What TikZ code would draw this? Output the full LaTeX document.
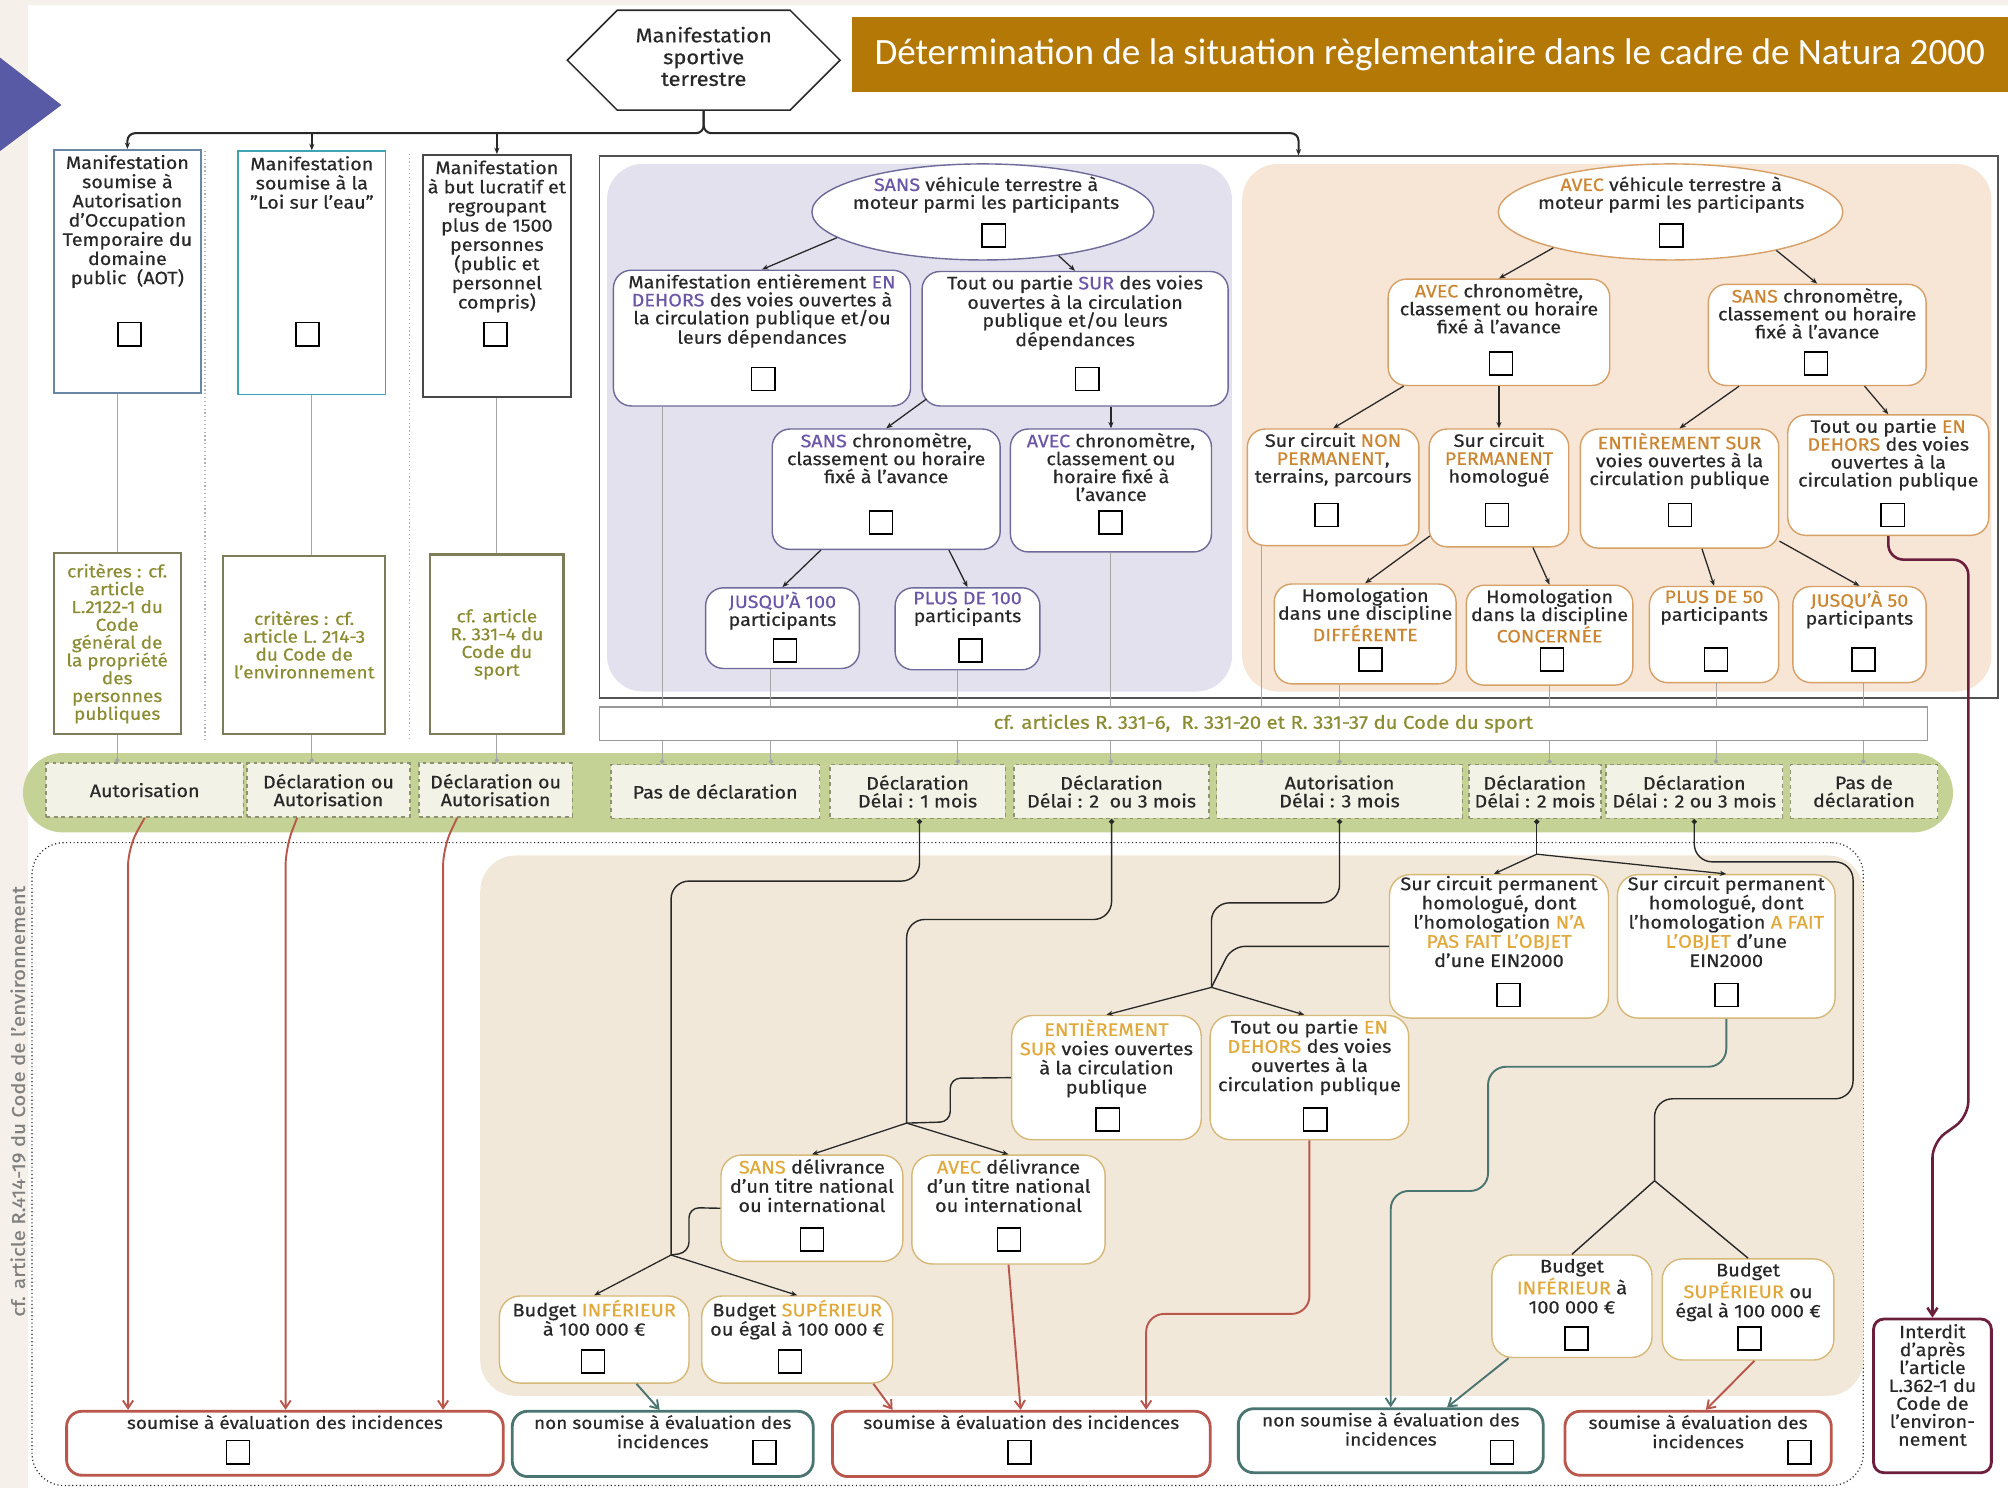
\documentclass[tikz,border=0pt]{standalone}
\usepackage{fontspec}
\setmainfont{Fira Sans}[FakeStretch=1.1, FakeBold=0.5]
\newfontfamily\titlefont{Carlito}
\usetikzlibrary{arrows.meta, positioning, calc, shapes.geometric, shapes.symbols}

\definecolor{ink}{RGB}{40,40,40}
\definecolor{bgbeige}{RGB}{245,241,234}
\definecolor{triblue}{RGB}{88,90,166}
\definecolor{titlebg}{RGB}{180,120,6}
\definecolor{aotbd}{RGB}{106,134,166}
\definecolor{loibd}{RGB}{62,163,181}
\definecolor{olivebd}{RGB}{125,125,92}
\definecolor{olivetx}{RGB}{140,140,50}
\definecolor{purpfill}{RGB}{228,225,239}
\definecolor{purpbd}{RGB}{110,106,154}
\definecolor{kwpurp}{RGB}{107,86,168}
\definecolor{orfill}{RGB}{247,229,214}
\definecolor{orbd}{RGB}{214,160,102}
\definecolor{kwor}{RGB}{204,133,48}
\definecolor{lowfill}{RGB}{242,232,218}
\definecolor{lowbd}{RGB}{214,184,120}
\definecolor{kwyel}{RGB}{226,168,58}
\definecolor{bandgreen}{RGB}{196,210,150}
\definecolor{bandfill}{RGB}{243,242,230}
\definecolor{bandbd}{RGB}{142,146,114}
\definecolor{redc}{RGB}{185,87,76}
\definecolor{tealc}{RGB}{75,117,113}
\definecolor{maroon}{RGB}{107,31,61}

\newcommand{\kp}[1]{\textcolor{kwpurp}{#1}}
\newcommand{\ko}[1]{\textcolor{kwor}{#1}}
\newcommand{\ky}[1]{\textcolor{kwyel}{#1}}
% text box with the text at the top
\newcommand{\toptxt}[4][3pt]{\parbox[c][#3pt][t]{#2pt}{\centering\vspace*{#1}#4\par}}

\begin{document}
\begin{tikzpicture}[
    x=1pt, y=-1pt,
    txt/.style={font=\fontsize{14}{14}\selectfont, text=ink},
    pnode/.style={draw=purpbd, line width=1.1pt, fill=white, rounded corners=14, inner sep=0pt, txt},
    onode/.style={draw=orbd, line width=1.1pt, fill=white, rounded corners=14, inner sep=0pt, txt},
    lnode/.style={draw=lowbd, line width=1.1pt, fill=white, rounded corners=16, inner sep=0pt,
      font=\fontsize{14.2}{15}\selectfont, text=ink},
    colbox/.style={line width=1.4pt, fill=white, inner sep=0pt, font=\fontsize{14}{15}\selectfont, text=ink},
    critbox/.style={draw=olivebd, line width=1.6pt, fill=white, inner sep=0pt, align=center,
      text=olivetx, font=\fontsize{13.5}{13.9}\selectfont},
    bandbox/.style={draw=bandbd, dashed, line width=1.2pt, fill=bandfill, inner sep=0pt, align=center,
      minimum height=42, text=ink, font=\fontsize{14}{14}\selectfont},
    outbox/.style={line width=2.2pt, fill=white, rounded corners=12, inner sep=0pt,
      font=\fontsize{13.5}{15}\selectfont, text=ink},
    chk/.style={draw=black, line width=1.2pt, minimum size=18, inner sep=0pt, fill=white},
    busline/.style={draw=ink, line width=1.6pt, rounded corners=6, -{Stealth[length=5pt,width=4pt]}},
    tarrow/.style={draw=ink, line width=1pt, -{Stealth[length=5pt,width=4pt]}},
    gline/.style={draw=gray!70, line width=0.8pt, -{Circle[length=3.5pt]}},
    bline/.style={draw=ink, line width=1.1pt, rounded corners=14},
    dotstart/.style={{Circle[length=4pt]}-},
    redar/.style={draw=redc, line width=1.5pt, rounded corners=14, -{Straight Barb[length=6pt,width=8pt]}},
    tealar/.style={draw=tealc, line width=1.5pt, rounded corners=14, -{Straight Barb[length=6pt,width=8pt]}},
    sepline/.style={draw=gray!60, dotted, line width=1pt}
]
\useasboundingbox (0,0) rectangle (1568,1162);
\fill[bgbeige] (0,0) rectangle (1568,1162);
\fill[white] (22,4) rectangle (1568,1162);

% Title
\fill[triblue] (0,45) -- (48,82) -- (0,118) -- cycle;
\node[signal, signal to=west and east, draw=ink, line width=1.2pt, fill=white, inner sep=0pt,
  minimum width=213, minimum height=78, align=center, text=ink, text depth=6pt,
  font=\fontsize{15.5}{17}\selectfont] (Hex) at (549.5,47) {Manifestation\\sportive\\terrestre};
\node[fill=titlebg, text=white, minimum width=903, minimum height=59, inner sep=0pt,
  font=\titlefont\fontsize{29}{32}\selectfont] (Ttl) at (1116.5,42.5)
  {Détermination de la situation règlementaire dans le cadre de Natura 2000};

% Left columns
\draw[sepline] (160,118) -- (160,578);
\draw[sepline] (320,120) -- (320,578);
\node[colbox, draw=aotbd] (A) at (99.5,212) {\toptxt[4pt]{115}{190}{Manifestation\\soumise à\\Autorisation\\d'Occupation\\Temporaire du\\domaine\\public~ (AOT)}};
\node[colbox, draw=loibd] (B) at (243.5,213) {\toptxt[4pt]{115}{190}{Manifestation\\soumise à la\\"Loi sur l'eau"}};
\node[colbox, draw=ink!85] (C) at (388,215.5) {\toptxt[4pt]{116}{189}{Manifestation\\à but lucratif et\\regroupant\\plus de 1500\\personnes\\(public et\\personnel\\compris)}};
\node[critbox, minimum width=99, minimum height=141] (CA) at (91.5,502.5) {critères : cf.\\article\\L.2122-1 du\\Code\\général de\\la propriété\\des\\personnes\\publiques};
\node[critbox, minimum width=127, minimum height=139] (CB) at (237.5,503.5) {critères : cf.\\article L. 214-3\\du Code de\\l'environnement};
\node[critbox, minimum width=104, minimum height=140] (CC) at (388,503) {cf. article\\R. 331-4 du\\Code du\\sport};

% Frame and panels
\node[draw=ink!80, line width=1.3pt, fill=white, minimum width=1092, minimum height=423] (Fr) at (1014,333.5) {};
\node[fill=purpfill, rounded corners=28, minimum width=488, minimum height=412] (PPan) at (718,334) {};
\node[fill=orfill, rounded corners=28, minimum width=585, minimum height=412] (OPan) at (1262.5,334) {};

% Top bus
\coordinate (bus0) at (549.5,104);
\draw[busline] (Hex.south) |- (A.north |- bus0) -- (A.north);
\draw[busline] (Hex.south) |- (Fr.north |- bus0) -- (Fr.north);
\draw[busline] (B.north |- bus0) -- (B.north);
\draw[busline] (C.north |- bus0) -- (C.north);

% Purple tree
\node[ellipse, draw=purpbd, line width=1.1pt, fill=white, minimum width=267, minimum height=75] (P0) at (767.5,165.5) {};
\node[txt, align=center] (P0t) at (770,152) {\kp{SANS} véhicule terrestre à\\moteur parmi les participants};
\node[pnode] (P1) at (595,264) {\toptxt{232}{106}{Manifestation entièrement \kp{EN}\\\kp{DEHORS} des voies ouvertes à\\la circulation publique et/ou\\leurs dépendances}};
\node[pnode] (P2) at (839.5,264.5) {\toptxt{239}{105}{Tout ou partie \kp{SUR} des voies\\ouvertes à la circulation\\publique et/ou leurs\\dépendances}};
\node[pnode] (P3) at (692,382) {\toptxt{178}{94}{\kp{SANS} chronomètre,\\classement ou horaire\\fixé à l'avance}};
\node[pnode] (P4) at (867.5,383) {\toptxt{157}{96}{\kp{AVEC} chronomètre,\\classement ou\\horaire fixé à\\l'avance}};
\node[pnode] (P5) at (611,490.5) {\toptxt{120}{63}{\kp{JUSQU'À 100}\\participants}};
\node[pnode] (P6) at (755.5,491) {\toptxt{113}{64}{\kp{PLUS DE 100}\\participants}};
\draw[tarrow] (P0.190) -- (P1.north);
\draw[tarrow] (P0.-30) -- (P2.north);
\draw[tarrow] ([xshift=4pt,yshift=6pt]P2.south west) -- (P3.north);
\draw[tarrow] (P2.south -| P4.north) -- (P4.north);
\draw[tarrow] (641,0 |- P3.south) -- (P5.north);
\draw[tarrow] (741,0 |- P3.south) -- (P6.north);

% Orange tree
\node[ellipse, draw=orbd, line width=1.1pt, fill=white, minimum width=269, minimum height=75] (O0) at (1304.5,165.5) {};
\node[txt, align=center] (O0t) at (1305,152) {\ko{AVEC} véhicule terrestre à\\moteur parmi les participants};
\node[onode] (O1) at (1170.5,259.5) {\toptxt{173}{83}{\ko{AVEC} chronomètre,\\classement ou horaire\\fixé à l'avance}};
\node[onode] (O2) at (1419,261.5) {\toptxt{170}{79}{\ko{SANS} chronomètre,\\classement ou horaire\\fixé à l'avance}};
\node[onode] (O3) at (1041,380.5) {\toptxt{134}{91}{Sur circuit \ko{NON}\\\ko{PERMANENT},\\terrains, parcours}};
\node[onode] (O4) at (1170.5,381) {\toptxt{109}{92}{Sur circuit\\\ko{PERMANENT}\\homologué}};
\node[onode] (O5) at (1311.5,381.5) {\toptxt{155}{93}{\ko{ENTIÈREMENT SUR}\\voies ouvertes à la\\circulation publique}};
\node[onode] (O6) at (1474.5,371) {\toptxt{157}{94}{Tout ou partie \ko{EN}\\\ko{DEHORS} des voies\\ouvertes à la\\circulation publique}};
\node[onode] (O7) at (1066,495) {\toptxt{142}{78}{Homologation\\dans une discipline\\\ko{DIFFÉRENTE}}};
\node[onode] (O8) at (1210,496) {\toptxt{130}{78}{Homologation\\dans la discipline\\\ko{CONCERNÉE}}};
\node[onode] (O9) at (1338.5,495.5) {\toptxt{101}{75}{\ko{PLUS DE 50}\\participants}};
\node[onode] (O10) at (1452,495.5) {\toptxt{104}{75}{\ko{JUSQU'À 50}\\participants}};
\draw[tarrow] (O0.197) -- (O1.north);
\draw[tarrow] (O0.-20) -- (O2.north);
\draw[tarrow] (1096,0 |- O1.south) -- (O3.north);
\draw[tarrow] (O1.south) -- (O4.north);
\draw[tarrow] (1358,0 |- O2.south) -- (O5.north);
\draw[tarrow] (1456,0 |- O2.south) -- (O6.north);
\draw[tarrow] ([xshift=1pt,yshift=9pt]O4.south west) -- (O7.north);
\draw[tarrow] (1197,0 |- O4.south) -- (O8.north);
\draw[tarrow] (1329,0 |- O5.south) -- (O9.north);
\draw[tarrow] ([yshift=6pt]O5.south east) -- (O10.north);

% Green band
\node[fill=bandgreen, rounded corners=31, minimum width=1507, minimum height=62] (Band) at (771.5,619) {};
\node[bandbox, minimum width=154] (B1) at (113,617) {Autorisation};
\node[bandbox, minimum width=127] (B2) at (256.5,617) {Déclaration ou\\Autorisation};
\node[bandbox, minimum width=120] (B3) at (387,617) {Déclaration ou\\Autorisation};
\node[bandbox, minimum width=163] (B4) at (558.5,618) {Pas de déclaration};
\node[bandbox, minimum width=137] (B5) at (716.5,618) {Déclaration\\Délai : 1 mois};
\node[bandbox, minimum width=152] (B6) at (868,618) {Déclaration\\Délai : 2~ ou 3 mois};
\node[bandbox, minimum width=192] (B7) at (1046,618) {Autorisation\\Délai : 3 mois};
\node[bandbox, minimum width=103] (B8) at (1198.5,618) {Déclaration\\Délai : 2 mois};
\node[bandbox, minimum width=138] (B9) at (1323,618) {Déclaration\\Délai : 2 ou 3 mois};
\node[bandbox, minimum width=115] (B10) at (1455.5,618) {Pas de\\déclaration};

% Criteria links
\draw[draw=gray!70, line width=0.8pt] (A.south -| CA.north) -- (CA.north);
\draw[draw=gray!70, line width=0.8pt] (B.south) -- (B.south |- CB.north);
\draw[draw=gray!70, line width=0.8pt] (C.south) -- (C.south |- CC.north);
\draw[gline] (CA.south) -- (CA.south |- B1.north);
\draw[gline] (B.south |- CB.south) -- (B.south |- B2.north);
\draw[gline] (CC.south) -- (CC.south |- B3.north);

% Leaves to band
\draw[gline] (517,0 |- P1.south) -- (517,0 |- B4.north);
\draw[gline] (602,0 |- P5.south) -- (602,0 |- B4.north);
\draw[gline] (748,0 |- P6.south) -- (748,0 |- B5.north);
\draw[gline] (P4.south) -- (P4.south |- B6.north);
\draw[gline] (985,0 |- O3.south) -- (985,0 |- B7.north);
\draw[gline] (1046,0 |- O7.south) -- (1046,0 |- B7.north);
\draw[gline] (O8.south) -- (O8.south |- B8.north);
\draw[gline] (1340,0 |- O9.south) -- (1340,0 |- B9.north);
\draw[gline] (1455,0 |- O10.south) -- (1455,0 |- B10.north);
\node[draw=gray!80, line width=1pt, fill=white, minimum width=1037, minimum height=26, inner sep=0pt,
  text=olivetx, font=\fontsize{14.5}{15}\selectfont] (Cf) at (986.5,565)
  {cf. articles R. 331-6,~ R. 331-20 et R. 331-37 du Code du sport};

% Lower section
\node[draw=ink, dotted, line width=0.9pt, rounded corners=25, minimum width=1430, minimum height=502] (LowF) at (740,909) {};
\node[fill=lowfill, rounded corners=28, minimum width=1080, minimum height=422] (LowP) at (915,879) {};
\node[rotate=90, text=gray, font=\fontsize{14.5}{15}\selectfont] (Ref) at (14,860) {cf. article R.414-19 du Code de l'environnement};

\node[lnode] (L1) at (1170.5,739) {\toptxt[1pt]{171}{112}{Sur circuit permanent\\homologué, dont\\l'homologation \ky{N'A}\\\ky{PAS FAIT L'OBJET}\\d'une EIN2000}};
\node[lnode] (L2) at (1348,739) {\toptxt[1pt]{170}{112}{Sur circuit permanent\\homologué, dont\\l'homologation \ky{A FAIT}\\\ky{L'OBJET} d'une\\EIN2000}};
\node[lnode] (L3) at (864,841.5) {\toptxt{148}{97}{\ky{ENTIÈREMENT}\\\ky{SUR} voies ouvertes\\à la circulation\\publique}};
\node[lnode] (L4) at (1022.5,841.5) {\toptxt{155}{97}{Tout ou partie \ky{EN}\\\ky{DEHORS} des voies\\ouvertes à la\\circulation publique}};
\node[lnode] (L5) at (634,943.5) {\toptxt{142}{83}{\ky{SANS} délivrance\\d'un titre national\\ou international}};
\node[lnode] (L6) at (787.5,944.5) {\toptxt{151}{85}{\ky{AVEC} délivrance\\d'un titre national\\ou international}};
\node[lnode] (L7) at (464,1046) {\toptxt{148}{68}{Budget \ky{INFÉRIEUR}\\à 100~000 €}};
\node[lnode] (L8) at (622.5,1046) {\toptxt{149}{68}{Budget \ky{SUPÉRIEUR}\\ou égal à 100~000 €}};
\node[lnode] (R1) at (1227.5,1020) {\toptxt{125}{80}{Budget\\\ky{INFÉRIEUR} à\\100~000 €}};
\node[lnode] (R2) at (1365,1022.5) {\toptxt{134}{79}{Budget\\\ky{SUPÉRIEUR} ou\\égal à 100~000 €}};

\node[outbox, draw=redc] (S1) at (222.5,1127) {\toptxt{341}{50}{soumise à évaluation des incidences}};
\node[outbox, draw=tealc] (N1) at (517.5,1127.5) {\toptxt{235}{51}{non soumise à évaluation des\\incidences}};
\node[outbox, draw=redc] (S2) at (797.5,1127.5) {\toptxt{295}{51}{soumise à évaluation des incidences}};
\node[outbox, draw=tealc] (N2) at (1086,1125) {\toptxt{238}{50}{non soumise à évaluation des\\incidences}};
\node[outbox, draw=redc] (S3) at (1326,1127) {\toptxt{208}{50}{soumise à évaluation des\\incidences}};
\node[outbox, draw=maroon, rounded corners=8, font=\fontsize{14}{14}\selectfont] (Int) at (1509,1090) {\toptxt[4pt]{92}{120}{Interdit\\d'après\\l'article\\L.362-1 du\\Code de\\l'environ-\\nement}};

% Junctions
\coordinate (J1) at (946,771);
\coordinate (J2) at (708,877);
\coordinate (J3) at (1292,922);
\coordinate (J4) at (524,980);
\coordinate (J5) at (1200,667);

\draw[bline, dotstart] (718,0 |- B5.south) -- (718,688) -- (524,688) -- (J4);
\draw[bline, dotstart] (B6.south) -- (868,718) -- (708,718) -- (J2);
\draw[bline, dotstart] (B7.south) -- (1046,705) -- (946,705) -- (J1);
\draw[bline, rounded corners=10] (L1.west) -- (962,739) -- (J1);
\draw[bline, dotstart] (1200,0 |- B8.south) -- (J5);
\draw[tarrow] (J5) -- ([xshift=-4pt]L1.north);
\draw[tarrow] (J5) -- (L2.north);
\draw[bline, dotstart] (B9.south) -- (1323,673) -- (1447,673) -- (1447,858) -- (1292,858) -- (J3);
\draw[bline, rounded corners=8] (L3.west) -- (742,842) -- (742,876) -- (J2);
\draw[bline, rounded corners=8] (L5.west) -- (538,943) -- (538,978) -- (J4);
\draw[tarrow] (J1) -- (L3.north);
\draw[tarrow] (J1) -- ([xshift=-4pt]L4.north);
\draw[tarrow] (J2) -- (L5.north);
\draw[tarrow] (J2) -- (L6.north);
\draw[tarrow] (J4) -- (L7.north);
\draw[tarrow] (J4) -- (L8.north);
\draw[bline] (J3) -- (R1.north);
\draw[bline] (J3) -- (R2.north);

% Outcomes
\draw[redar] (B1.south) -- (100,662) -- (100,0 |- S1.north);
\draw[redar] (232,0 |- B2.south) -- (223,662) -- (223,0 |- S1.north);
\draw[redar] (357,0 |- B3.south) -- (346,662) -- (346,0 |- S1.north);
\draw[redar] (682,0 |- L8.south) -- (697,0 |- S2.north);
\draw[redar] (L6.south) -- (797,0 |- S2.north);
\draw[redar] (L4.south) -- (1022.5,1026) -- (895,1026) -- (895,0 |- S2.north);
\draw[redar] (1370,0 |- R2.south) -- (1332,0 |- S3.north);
\draw[tealar] (497,0 |- L7.south) -- (515,0 |- N1.north);
\draw[tealar] (1178,0 |- R1.south) -- (1130,0 |- N2.north);
\draw[tealar] (L2.south) -- (1348,833) -- (1162,833) -- (1162,930) -- (1086,930) -- (1086,0 |- N2.north);
\draw[draw=maroon, line width=2pt, rounded corners=12, -{Straight Barb[length=6pt,width=8pt]}]
  (O6.south) -- (1474.5,437) -- (1537,437) -- (1537,872) -- (1509,892) -- (Int.north);

% Checkboxes
\foreach \n/\x/\y in {A/101/261, B/240/261, C/387/261, P0/776/184, P1/596/296, P2/849/296,
    P3/688/408, P4/867/408, P5/613/508, P6/758/508, O0/1305/184, O1/1172/284, O2/1418/284,
    O3/1036/402, O4/1169/402, O5/1312/402, O6/1478/402, O7/1070/515, O8/1212/515,
    O9/1340/515, O10/1455/515, L1/1178/777, L2/1348/777, L3/865/874, L4/1027/874,
    L5/634/968, L6/788/968, L7/463/1063, L8/617/1063, R1/1231/1045, R2/1366/1045,
    S1/186/1134, N1/597/1134, S2/796/1134, N2/1173/1134, S3/1405/1134}
  \node[chk] (k\n) at (\x,\y) {};
\end{tikzpicture}
\end{document}
